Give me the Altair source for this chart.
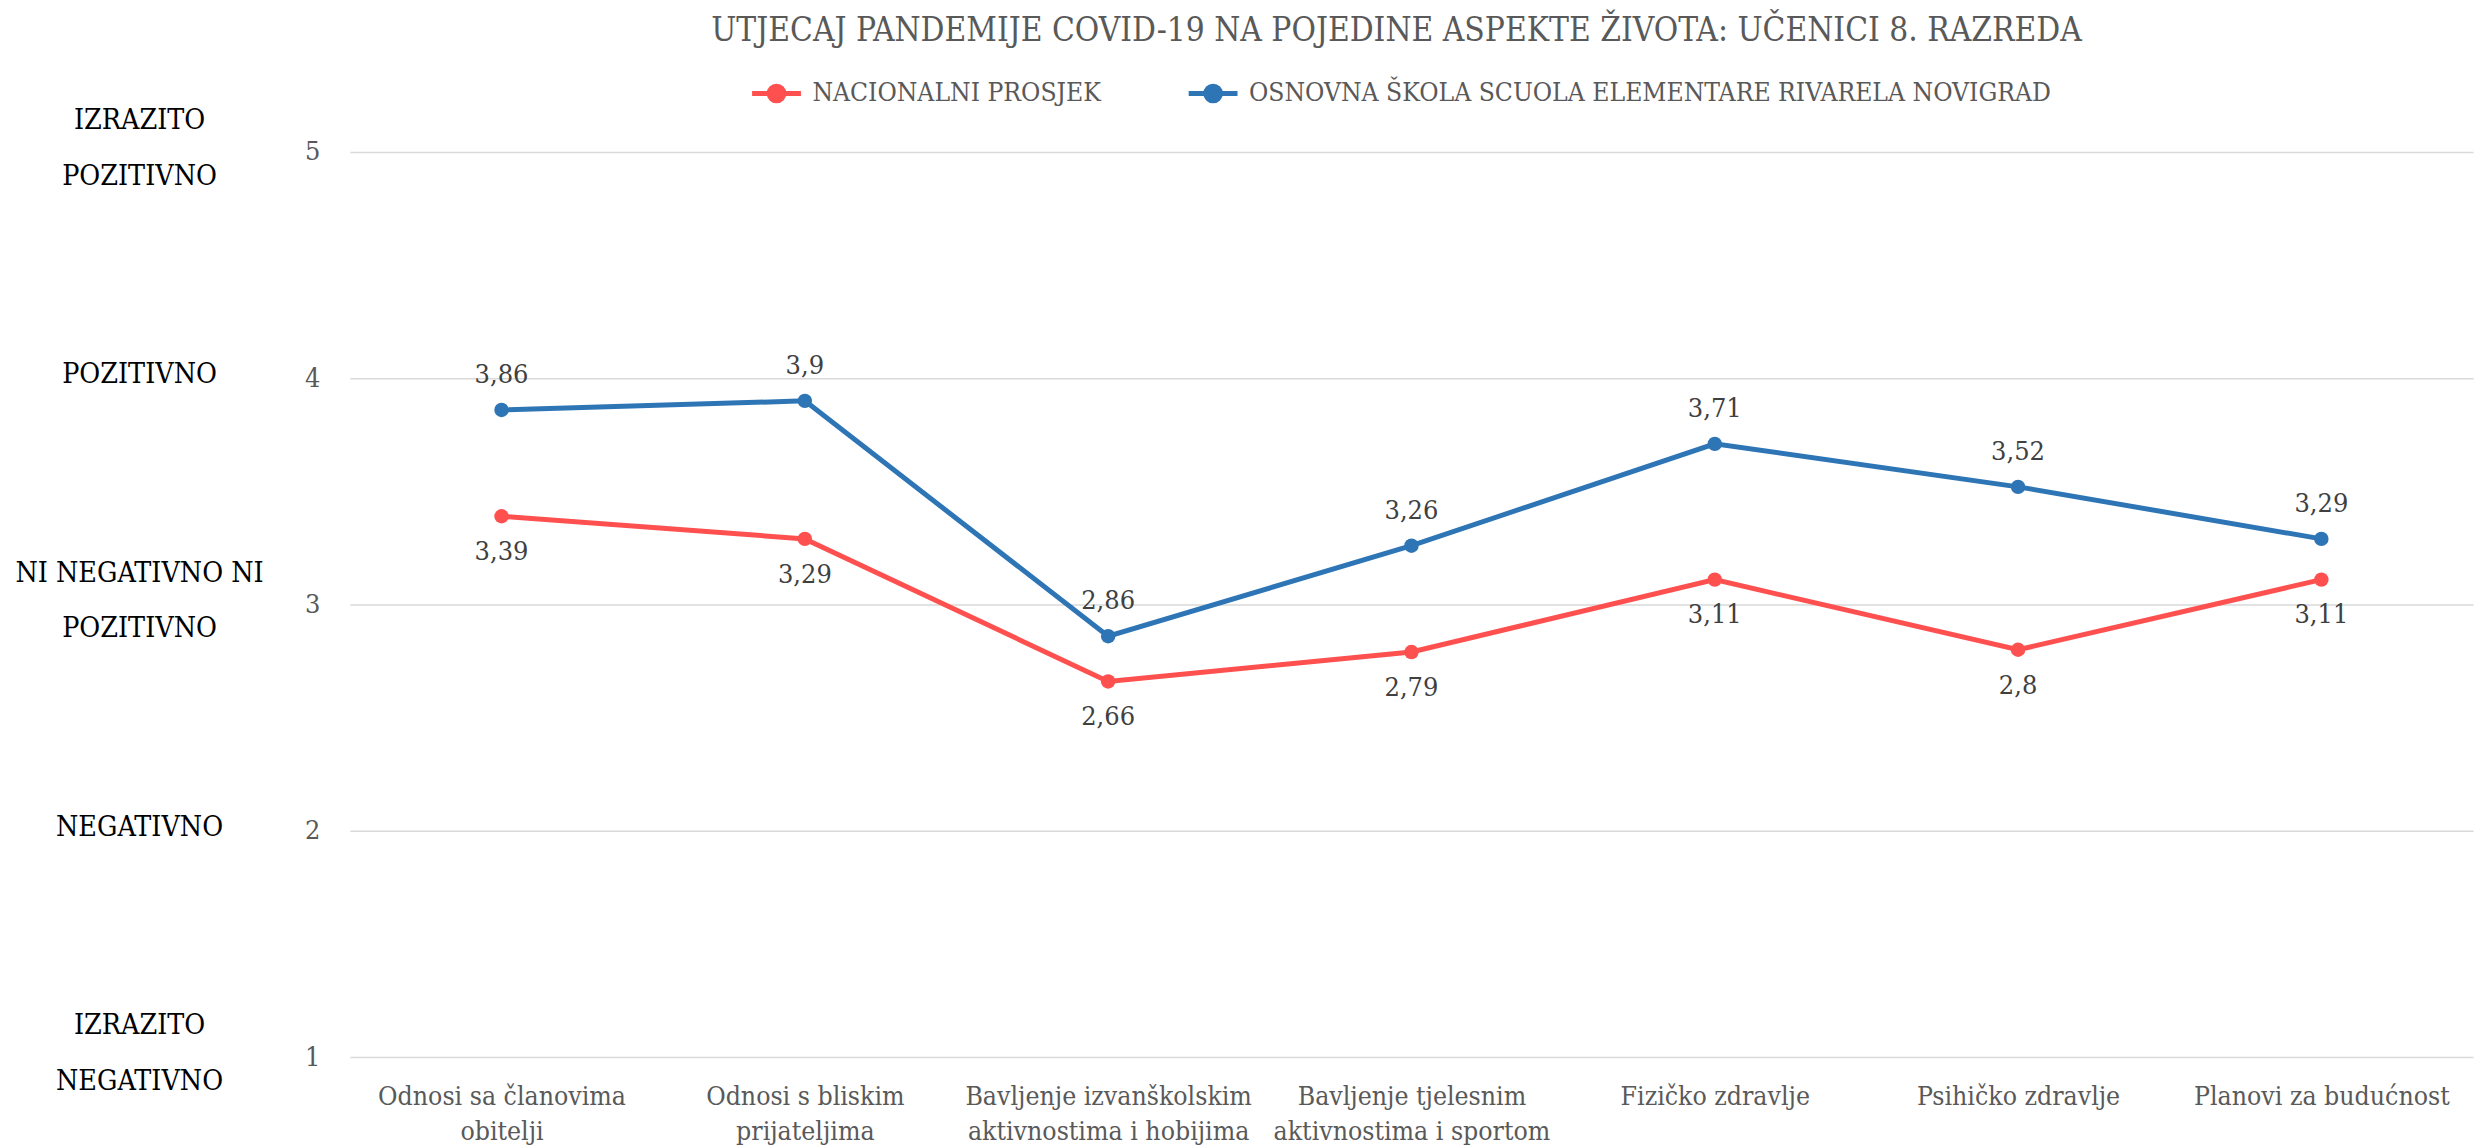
import json
import altair as alt
import pandas as pd

categories = [
    "Odnosi sa članovima obitelji",
    "Odnosi s bliskim prijateljima",
    "Bavljenje izvanškolskim aktivnostima i hobijima",
    "Bavljenje tjelesnim aktivnostima i sportom",
    "Fizičko zdravlje",
    "Psihičko zdravlje",
    "Planovi za budućnost",
]
category_lines = [
    ["Odnosi sa članovima", "obitelji"],
    ["Odnosi s bliskim", "prijateljima"],
    ["Bavljenje izvanškolskim", "aktivnostima i hobijima"],
    ["Bavljenje tjelesnim", "aktivnostima i sportom"],
    ["Fizičko zdravlje"],
    ["Psihičko zdravlje"],
    ["Planovi za budućnost"],
]
series = ["NACIONALNI PROSJEK", "OSNOVNA ŠKOLA SCUOLA ELEMENTARE RIVARELA NOVIGRAD"]
national = [3.39, 3.29, 2.66, 2.79, 3.11, 2.8, 3.11]
school = [3.86, 3.9, 2.86, 3.26, 3.71, 3.52, 3.29]
colors = ["#FF5050", "#2E75B6"]

scale_values = [1, 2, 3, 4, 5]
scale_texts = ["IZRAZITO|NEGATIVNO", "NEGATIVNO", "NI NEGATIVNO NI|POZITIVNO", "POZITIVNO", "IZRAZITO|POZITIVNO"]

title_text = "UTJECAJ PANDEMIJE COVID-19 NA POJEDINE ASPEKTE ŽIVOTA: UČENICI 8. RAZREDA"

rows = []
for s, vals in zip(series, [national, school]):
    for c, v in zip(categories, vals):
        rows.append({"category": c, "series": s, "value": v,
                     "lbl": ("%g" % v).replace(".", ",")})
df = pd.DataFrame(rows)
left_df = pd.DataFrame({"v": scale_values, "t": scale_texts,
                        "n": [len(t.split("|")) for t in scale_texts]})

COND = "DejaVu Serif Condensed"
GREY = "#595959"

mapping = {c: l for c, l in zip(categories, category_lines)}
label_expr = json.dumps(mapping, ensure_ascii=False) + "[datum.value]"

x_enc = alt.X("category:N", sort=categories, scale=alt.Scale(padding=0.5),
              axis=alt.Axis(title=None, labelExpr=label_expr, labelAngle=0, domain=False,
                            ticks=False, grid=False, labelFont=COND, labelFontSize=26.5,
                            labelColor=GREY, labelPadding=27, labelLineHeight=35,
                            labelLimit=400))
y_enc = alt.Y("value:Q", scale=alt.Scale(domain=[1, 5], nice=False, zero=False),
              axis=alt.Axis(title=None, values=scale_values, format="d", grid=True,
                            gridColor="#D9D9D9", gridWidth=1.5, domain=False, ticks=False,
                            labelFont=COND, labelFontSize=27, labelColor=GREY, labelPadding=30))

legend_path = "M-1,0L1,0M0.3,0A0.3,0.3,0,1,1,-0.3,0A0.3,0.3,0,1,1,0.3,0Z"
color_enc = alt.Color("series:N", scale=alt.Scale(domain=series, range=colors),
                      legend=alt.Legend(title=None, orient="none", legendX=401, legendY=-86,
                                        direction="horizontal", symbolType=legend_path,
                                        symbolSize=2401, symbolStrokeWidth=5,
                                        labelFont=COND, labelFontSize=26.3, labelColor=GREY,
                                        columnPadding=77, labelOffset=9, labelLimit=1200))

base = alt.Chart(df).encode(x=x_enc, y=y_enc, color=color_enc)

points = base.mark_circle(size=210, opacity=1)
lines = base.mark_line(strokeWidth=5)

lbl_style = dict(font=COND, fontSize=27, color="#404040", baseline="middle", align="center")
labels_up = alt.Chart(df).encode(x=x_enc, y=y_enc, text="lbl:N").transform_filter(
    alt.datum.series == series[1]).mark_text(dy=-35, **lbl_style)
labels_dn = alt.Chart(df).encode(x=x_enc, y=y_enc, text="lbl:N").transform_filter(
    alt.datum.series == series[0]).mark_text(dy=36, **lbl_style)

left_style = dict(lineBreak="|", lineHeight=56, align="center", baseline="middle",
                  font=COND, fontSize=28.5, color="black")
left1 = alt.Chart(left_df).transform_filter(alt.datum.n == 1).mark_text(dy=-4, **left_style).encode(
    y=alt.Y("v:Q"), x=alt.value(-211), text="t:N")
left2 = alt.Chart(left_df).transform_filter(alt.datum.n == 2).mark_text(dy=-32, **left_style).encode(
    y=alt.Y("v:Q"), x=alt.value(-211), text="t:N")

chart = alt.layer(lines, points, labels_up, labels_dn, left1, left2).properties(
    width=2130, height=908,
    title=alt.TitleParams(title_text, font=COND, fontSize=33.3, color=GREY, fontWeight="normal",
                          anchor="middle", offset=18, dx=-15),
    autosize=alt.AutoSizeParams(type="none"),
    padding={"left": 343, "top": 142.6, "right": 5, "bottom": 88},
    background="white",
).configure_view(stroke=None)

chart.save("out.html", embed_options={"renderer": "svg", "actions": False})
